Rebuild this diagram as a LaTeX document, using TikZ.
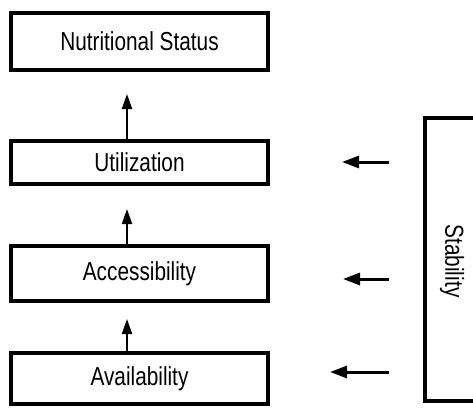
\documentclass[tikz,border=0pt]{standalone}
\usepackage{fontspec}
\setmainfont{Liberation Sans}[FakeStretch=0.8]
\usetikzlibrary{arrows.meta}
\begin{document}
\begin{tikzpicture}[x=1pt,y=-1pt,
  box/.style={draw,line width=4pt,rectangle,inner sep=0pt,minimum width=257pt,
    font=\fontsize{26}{30}\selectfont},
  varrow/.style={line width=2pt,-{Triangle[length=15pt,width=10pt]}},
  harrow/.style={line width=3pt,-{Triangle[length=17pt,width=12pt]}}]
\useasboundingbox (0,0) rectangle (473,407);
\node[box,minimum height=57pt] (ns) at (139.5,41.5) {Nutritional Status};
\node[box,minimum height=43pt] (ut) at (139.5,162.5) {Utilization};
\node[box,minimum height=55pt] (ac) at (139.5,273.5) {Accessibility};
\node[box,minimum height=51pt] (av) at (139.5,378.5) {Availability};
\draw[line width=4pt] (473,118) -- (425,118) -- (425,401) -- (473,401);
\node[rotate=-90,font=\fontsize{26}{30}\selectfont] (st) at (452,261) {Stability};
\coordinate (t1) at (127,94);
\coordinate (t2) at (127,209);
\coordinate (t3) at (127,319);
\draw[varrow] (t1 |- ut.north) -- (t1);
\draw[varrow] (t2 |- ac.north) -- (t2);
\draw[varrow] (t3 |- av.north) -- (t3);
\coordinate (h1s) at (389,162);
\coordinate (h1e) at (342,162);
\coordinate (h2s) at (389,279);
\coordinate (h2e) at (343,279);
\coordinate (h3s) at (389,372);
\coordinate (h3e) at (330,372);
\draw[harrow] (h1s) -- (h1e);
\draw[harrow] (h2s) -- (h2e);
\draw[harrow] (h3s) -- (h3e);
\end{tikzpicture}
\end{document}
